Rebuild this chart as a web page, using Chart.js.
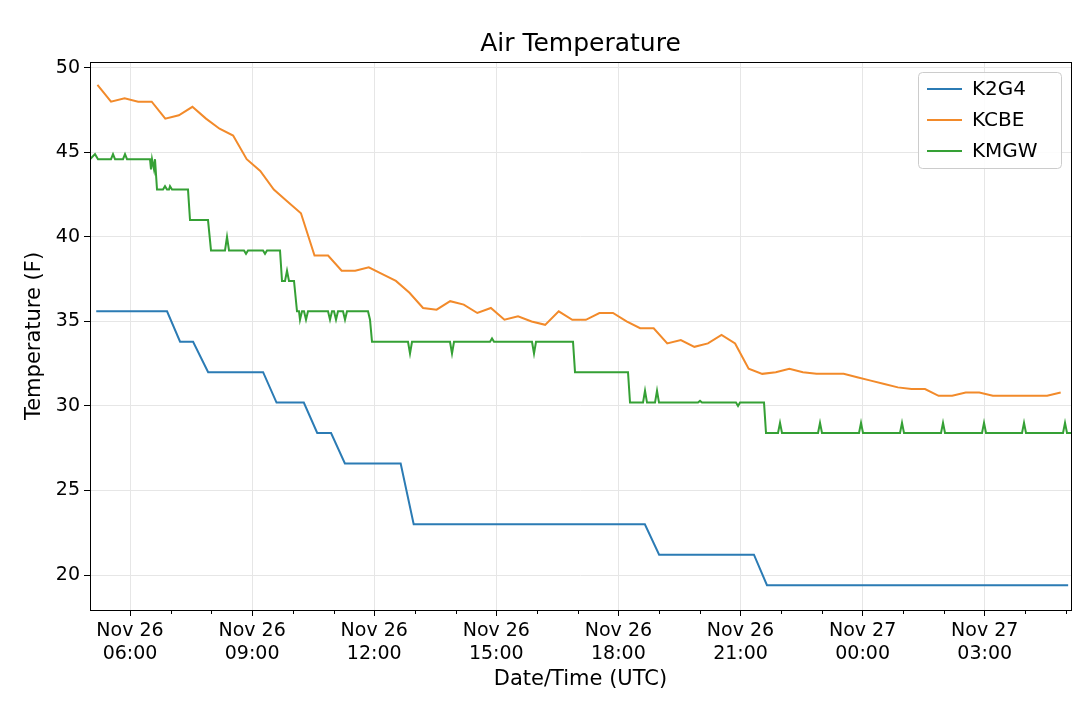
<!DOCTYPE html>
<html><head><meta charset="utf-8">
<script src="https://cdn.jsdelivr.net/npm/chart.js@4"></script>
<style>html,body{margin:0;background:#fff}#w{width:1080px;height:710px}</style>
</head><body><div id="w"><canvas id="c"></canvas></div>
<script>
// x values are hours since Nov 26 00:00 UTC
const seriesNames = ['K2G4','KCBE','KMGW'];
const colors = ['#2b7bb4','#f28a2a','#35a035'];
const k2g4 = [[5.17,35.6],[6.91,35.6],[7.23,33.8],[7.55,33.8],[7.92,32.0],[9.27,32.0],[9.6,30.2],[10.27,30.2],[10.6,28.4],[10.94,28.4],[11.28,26.6],[12.65,26.6],[12.97,23.0],[18.65,23.0],[19.0,21.2],[21.33,21.2],[21.65,19.4],[29.05,19.4]];
const kcbeStart = 5.2, kcbeStep = 1/3;
const kcbe = [49.0,48.0,48.2,48.0,48.0,47.0,47.2,47.7,47.0,46.4,46.0,44.6,43.9,42.8,42.1,41.4,38.9,38.9,38.0,38.0,38.2,37.8,37.4,36.7,35.8,35.7,36.2,36.0,35.5,35.8,35.1,35.3,35.0,34.8,35.6,35.1,35.1,35.5,35.5,35.0,34.6,34.6,33.7,33.9,33.5,33.7,34.2,33.7,32.2,31.9,32.0,32.2,32.0,31.9,31.9,31.9,31.7,31.5,31.3,31.1,31.0,31.0,30.6,30.6,30.8,30.8,30.6,30.6,30.6,30.6,30.6,30.8];
const kmgwX = [90,95,98,111,113,115,123,125,127,150,151,152,154,155,157,163,165,167,169,170,172,188,190,208,211,225,227,229,244,246,248,263,265,267,280,282,285,287,289,291,294,297,299,300,302,304,306,308,328,330,332,334,336,338,343,345,347,368,370,372,408,410,412,450,452,454,490,492,494,532,534,536,573,575,628,630,643,645,647,655,657,659,698,700,702,736,738,740,764,766,778,780,782,818,820,822,859,861,863,900,902,904,941,943,945,982,984,986,1022,1024,1026,1063,1065,1067,1071];
const kmgwY = [44.6,44.9,44.6,44.6,44.9,44.6,44.6,44.9,44.6,44.6,44.0,44.6,44.0,44.6,42.8,42.8,43.0,42.8,42.8,43.0,42.8,42.8,41.0,41.0,39.2,39.2,40.0,39.2,39.2,39.0,39.2,39.2,39.0,39.2,39.2,37.4,37.4,38.0,37.4,37.4,37.4,35.6,35.6,35.1,35.6,35.6,35.1,35.6,35.6,35.1,35.6,35.6,35.1,35.6,35.6,35.1,35.6,35.6,35.1,33.8,33.8,33.1,33.8,33.8,33.1,33.8,33.8,34.0,33.8,33.8,33.1,33.8,33.8,32.0,32.0,30.2,30.2,30.9,30.2,30.2,30.9,30.2,30.2,30.3,30.2,30.2,30.0,30.2,30.2,28.4,28.4,29.0,28.4,28.4,29.0,28.4,28.4,29.0,28.4,28.4,29.0,28.4,28.4,29.0,28.4,28.4,29.0,28.4,28.4,29.0,28.4,28.4,29.0,28.4,28.4];
const yTicks = [20,25,30,35,40,45,50];
const xMajor = [6,9,12,15,18,21,24,27];

const pxToH = x => 6 + (x-130)/40.7;
const dsK2G4 = k2g4.map(p=>({x:p[0],y:p[1]}));
const dsKCBE = kcbe.map((v,i)=>({x:kcbeStart+i*kcbeStep,y:v}));
const dsKMGW = kmgwX.map((x,i)=>({x:pxToH(x),y:kmgwY[i]}));
const font = 'DejaVu Sans';
function lbl(h){const d=h>=24?27:26;const hh=((h%24)+'').padStart(2,'0');return ['Nov '+d, hh+':00'];}

const deco = {id:'deco',
  afterDraw(ch){
    const c=ch.ctx,a=ch.chartArea,xs=ch.scales.x;
    c.save();
    c.strokeStyle='#000';c.lineWidth=1;
    for(let h=6;h<=29;h++){if(h%3===0)continue;const x=Math.round(xs.getPixelForValue(h))+0.5;c.beginPath();c.moveTo(x,a.bottom);c.lineTo(x,a.bottom+4);c.stroke();}
    c.strokeRect(a.left+0.5,a.top+0.5,a.right-a.left,a.bottom-a.top);
    c.fillStyle='#000';c.font='25px '+font;c.textAlign='center';c.textBaseline='middle';
    c.fillText('Air Temperature',(a.left+a.right)/2,44);
    const lx=918,ly=72,lw=143,lh=96;
    c.fillStyle='rgba(255,255,255,0.85)';c.strokeStyle='#ccc';c.lineWidth=1;
    c.beginPath();c.roundRect(lx+0.5,ly+0.5,lw,lh,4);c.fill();c.stroke();
    c.font='20px '+font;c.textAlign='left';
    seriesNames.forEach((n,i)=>{const y=ly+17+i*31;c.strokeStyle=colors[i];c.lineWidth=2;c.beginPath();c.moveTo(lx+9,y);c.lineTo(lx+44,y);c.stroke();c.fillStyle='#000';c.fillText(n,lx+54,y+1);});
    c.restore();
  }};

new Chart(document.getElementById('c'),{
  type:'line',
  data:{datasets:[
    {label:seriesNames[0],data:dsK2G4,borderColor:colors[0]},
    {label:seriesNames[1],data:dsKCBE,borderColor:colors[1]},
    {label:seriesNames[2],data:dsKMGW,borderColor:colors[2]}
  ].map(d=>Object.assign(d,{borderWidth:2,pointRadius:0,tension:0,fill:false}))},
  options:{responsive:true,maintainAspectRatio:false,animation:false,
    layout:{padding:{top:62,right:9,left:22,bottom:18}},
    plugins:{legend:{display:false},title:{display:false},tooltip:{enabled:false}},
    scales:{
      x:{type:'linear',min:5.017,max:29.12,
        afterBuildTicks(s){s.ticks=xMajor.map(v=>({value:v}));},
        afterFit(s){s.height=82;},
        ticks:{callback:v=>lbl(v),color:'#000',font:{family:font,size:19},maxRotation:0,autoSkip:false,padding:4},
        grid:{color:'#e6e6e6',tickColor:'#000',tickLength:6,drawTicks:true},
        border:{display:false},
        title:{display:true,text:'Date/Time (UTC)',color:'#000',font:{family:font,size:21},padding:{top:0,bottom:0}}},
      y:{min:17.93,max:50.35,
        afterBuildTicks(s){s.ticks=yTicks.map(v=>({value:v}));},
        afterFit(s){s.width=68;},
        ticks:{color:'#000',font:{family:font,size:19},padding:4},
        grid:{color:'#e6e6e6',tickColor:'#000',tickLength:6},
        border:{display:false},
        title:{display:true,text:'Temperature (F)',color:'#000',font:{family:font,size:21},padding:{top:0,bottom:0}}}
    }},
  plugins:[deco]
});
</script></body></html>
